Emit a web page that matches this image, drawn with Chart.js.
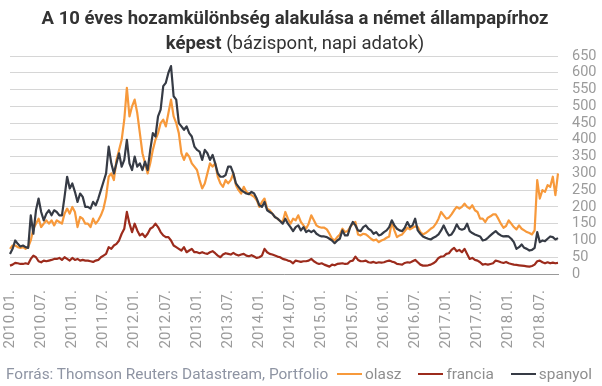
<!DOCTYPE html>
<html>
<head>
<meta charset="utf-8">
<script src="https://cdn.jsdelivr.net/npm/chart.js"></script>
<style>
  body { margin: 0; background: #fff; font-family: Roboto, "Noto Sans", sans-serif; }
  #wrap { position: relative; width: 602px; height: 386px; overflow: hidden; }
  #chart { position: absolute; left: 0; top: 0; }
  #title { position: absolute; left: 0; top: 6px; width: 590px; text-align: center;
           font-size: 18.5px; line-height: 25px; color: #333; }
  #title b { font-weight: 700; }
  #source { position: absolute; left: 6px; top: 365px; font-size: 15.4px; color: #8e94a3; white-space: nowrap; }
  #legend { position: absolute; left: 337px; top: 365px; display: flex; font-size: 15.4px; color: #8e8e8e; white-space: nowrap; }
  #legend .item { display: flex; align-items: center; margin-right: 17px; }
  #legend .swatch { display: inline-block; width: 25px; height: 2px; margin-right: 3px; }
</style>
</head>
<body>
<div id="wrap">
  <canvas id="chart" width="602" height="386"></canvas>
  <div id="title"><b>A 10 éves hozamkülönbség alakulása a német állampapírhoz</b><br><b>képest</b> (bázispont, napi adatok)</div>
  <div id="source">Forrás: Thomson Reuters Datastream, Portfolio</div>
  <div id="legend"></div>
</div>
<script>
// half-monthly readings, 2010.01 - 2018.10 (basis points)
const olasz = [
  75, 85, 85, 80, 78, 80, 75, 80, 100, 135, 150, 165, 140, 150, 160, 150, 160, 145, 160, 155, 150, 180, 195, 180, 200, 185, 140, 170, 165, 150, 150,
  140, 165, 150, 160, 175, 195, 230, 290, 300, 280, 340, 370, 400, 460, 555, 470, 500, 520, 480, 420, 360, 330, 300, 330, 370, 400, 420, 450, 460, 440,
  480, 520, 470, 450, 420, 360, 340, 360, 350, 330, 320, 310, 280, 255, 270, 300, 330, 320, 330, 290, 270, 260, 280, 270, 280, 300, 265, 250, 240, 260,
  245, 240, 235, 230, 220, 200, 215, 225, 195, 190, 180, 170, 165, 158, 155, 185, 165, 150, 165, 160, 175, 155, 145, 135, 150, 175, 160, 145, 140, 138,
  138, 133, 120, 105, 100, 110, 118, 135, 125, 128, 140, 150, 155, 118, 115, 120, 118, 112, 105, 100, 103, 95, 100, 103, 108, 112, 155, 130, 110, 115,
  118, 128, 138, 133, 138, 142, 140, 125, 118, 122, 128, 135, 140, 150, 165, 185, 175, 165, 168, 178, 190, 200, 195, 200, 210, 200, 195, 205, 190, 185,
  165, 165, 155, 168, 172, 178, 178, 165, 150, 138, 143, 160, 150, 140, 133, 145, 135, 130, 125, 122, 118, 130, 280, 225, 250, 245, 265, 260, 290, 235, 300
];
const francia = [
  25, 28, 33, 32, 30, 30, 32, 30, 45, 55, 50, 38, 35, 40, 38, 40, 42, 45, 45, 48, 42, 50, 45, 40, 48, 42, 45, 40, 42, 40, 40,
  38, 36, 40, 42, 50, 55, 60, 80, 75, 85, 90, 100, 120, 135, 185, 150, 125, 150, 130, 115, 120, 110, 120, 135, 140, 150, 140, 125, 115, 110,
  110, 100, 85, 80, 75, 70, 80, 65, 70, 75, 65, 65, 62, 65, 62, 60, 65, 68, 62, 55, 50, 58, 62, 60, 58, 63, 58, 55, 58, 60,
  55, 53, 56, 52, 48, 50, 55, 75, 65, 60, 58, 55, 52, 50, 45, 43, 40, 38, 32, 40, 38, 36, 38, 38, 40, 45, 38, 33, 30, 32,
  28, 25, 22, 28, 26, 30, 31, 32, 30, 31, 38, 40, 52, 42, 38, 38, 40, 35, 34, 36, 33, 35, 34, 35, 38, 40, 37, 35, 30, 29,
  28, 33, 35, 34, 38, 42, 35, 28, 25, 25, 26, 28, 32, 38, 48, 52, 53, 60, 62, 72, 78, 68, 72, 65, 75, 60, 45, 48, 42, 40,
  35, 28, 30, 28, 30, 32, 40, 38, 35, 33, 36, 32, 30, 28, 27, 26, 25, 24, 23, 22, 24, 28, 38, 40, 35, 32, 35, 32, 34, 32, 33
];
const spanyol = [
  60, 75, 100, 90, 82, 85, 80, 78, 175, 120, 190, 225, 185, 160, 180, 190, 175, 190, 185, 175, 175, 230, 290, 255, 270, 245, 215, 240, 230, 200, 200,
  195, 215, 205, 225, 250, 275, 300, 380, 330, 300, 330, 360, 320, 340, 400, 330, 310, 350, 320, 330, 310, 335, 310, 370, 420, 410, 470, 490, 560, 570,
  600, 620, 530, 520, 450, 440, 430, 440, 420, 410, 380, 370, 365, 340, 370, 360, 340, 355, 330, 300, 290, 290, 295, 320, 320, 300, 270, 260, 250, 245,
  240, 238, 245, 240, 225, 205, 200, 215, 190, 185, 180, 170, 165, 158, 150, 165, 150, 140, 128, 140, 145, 130, 140, 125, 130, 125, 130, 120, 115, 112,
  112, 110, 105, 100, 92, 100, 105, 130, 115, 115, 140, 155, 145, 130, 128, 140, 145, 135, 130, 120, 125, 115, 118, 125, 130, 140, 160, 145, 135, 130,
  128, 138, 155, 140, 145, 165, 130, 120, 112, 108, 105, 103, 108, 112, 118, 130, 145, 128, 115, 118, 130, 148, 135, 132, 135, 150, 128, 122, 118, 115,
  112, 100, 102, 108, 115, 122, 128, 120, 115, 112, 113, 112, 105, 95, 75, 80, 88, 78, 75, 70, 72, 78, 125, 95, 100, 98, 105, 112, 110, 103, 107
];
// one tick label every 12 half-months
const tickLabels = ['2010.01.', '2010.07.', '2011.01.', '2011.07.', '2012.01.', '2012.07.',
  '2013.01.', '2013.07.', '2014.01.', '2014.07.', '2015.01.', '2015.07.', '2016.01.',
  '2016.07.', '2017.01.', '2017.07.', '2018.01.', '2018.07.'];
const periods = olasz.map((_, i) => i);

const series = [
  { label: 'olasz', data: olasz, color: '#f7993b', order: 2 },
  { label: 'francia', data: francia, color: '#9c2b1c', order: 1 },
  { label: 'spanyol', data: spanyol, color: '#363b45', order: 0 }
];

const ctx = document.getElementById('chart').getContext('2d');
new Chart(ctx, {
  type: 'line',
  data: {
    labels: periods,
    datasets: series.map(s => ({
      label: s.label,
      data: s.data,
      borderColor: s.color,
      backgroundColor: s.color,
      borderWidth: 2.2,
      pointRadius: 0,
      borderJoinStyle: 'round',
      tension: 0,
      order: s.order
    }))
  },
  options: {
    responsive: false,
    animation: false,
    layout: { padding: { top: 56, left: 10, right: 4, bottom: 29.5 } },
    plugins: { legend: { display: false }, tooltip: { enabled: false } },
    scales: {
      x: {
        type: 'category',
        grid: { display: false },
        border: { display: true, color: '#9a9a9a', width: 1 },
        ticks: {
          autoSkip: false,
          minRotation: 90,
          maxRotation: 90,
          padding: 8,
          color: '#9b9b9b',
          font: { family: 'Roboto', size: 15 },
          callback: (v, i) => (i % 12 === 0 ? tickLabels[i / 12] : '')
        }
      },
      y: {
        position: 'right',
        min: 0,
        max: 650,
        afterFit: scale => { scale.width = 40; },
        grid: { color: '#d6d6d6', drawTicks: false },
        border: { display: false },
        ticks: {
          stepSize: 50,
          autoSkip: false,
          padding: 14,
          color: '#9b9b9b',
          font: { family: 'Roboto', size: 14.5 }
        }
      }
    }
  }
});

// legend in the footer line, next to the source note
const legend = document.getElementById('legend');
series.forEach(s => {
  const item = document.createElement('span');
  item.className = 'item';
  item.innerHTML = `<span class="swatch" style="background:${s.color}"></span>${s.label}`;
  legend.appendChild(item);
});
</script>
</body>
</html>
